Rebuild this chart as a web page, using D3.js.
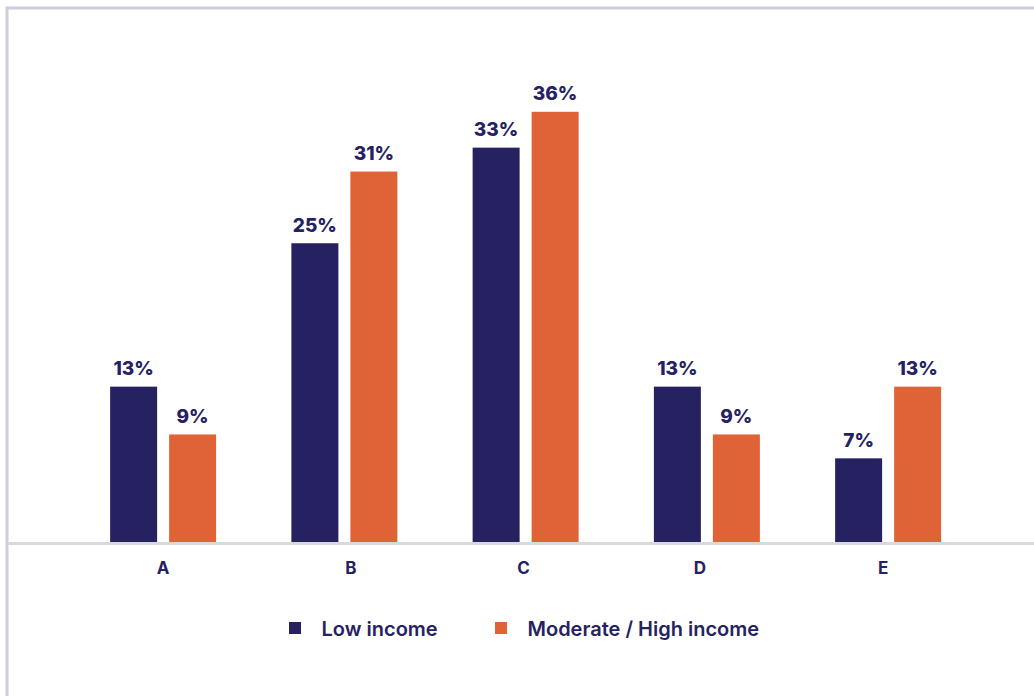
<!DOCTYPE html>
<html>
<head>
<meta charset="utf-8">
<script src="https://cdn.jsdelivr.net/npm/d3@7"></script>
<style>
  html, body { margin: 0; padding: 0; background: #ffffff; }
  svg { display: block; font-family: Inter, "Noto Sans", sans-serif; }
</style>
</head>
<body>
<svg id="chart" width="1034" height="696"></svg>
<script>
// Share of respondents by category, split by income group
const categories = ["A", "B", "C", "D", "E"];
const seriesKeys = ["low", "high"];
const seriesNames = ["Low income", "Moderate / High income"];
const lowIncome = [13, 25, 33, 13, 7];
const highIncome = [9, 31, 36, 9, 13];

const colors = { low: "#262262", high: "#e06337" };
const textColor = "#262262";
// small horizontal nudges applied to the category tick labels (layout only)
const tickNudge = { A: 0, B: 6.5, C: -2, D: -7, E: -5 };

const svg = d3.select("#chart");
const W = 1034, H = 696;

// frame: light lines along top and left edges
svg.append("line").attr("x1", 7).attr("x2", W).attr("y1", 8).attr("y2", 8)
  .attr("stroke", "#cfcde0").attr("stroke-width", 3);
svg.append("line").attr("x1", 7).attr("x2", 7).attr("y1", 6.5).attr("y2", H)
  .attr("stroke", "#cfcde0").attr("stroke-width", 3);

const baseY = 542;
const y = d3.scaleLinear().domain([0, 36]).range([baseY, baseY - 36 * 11.95]);

const x0 = d3.scaleBand().domain(categories).range([72.5, 978.75]).padding(0);
const x1 = d3.scaleBand().domain(seriesKeys).range([0, 106]).paddingInner(12 / 59).paddingOuter(0);

const rows = categories.map((c, i) => ({ cat: c, low: lowIncome[i], high: highIncome[i] }));

const groups = svg.append("g").selectAll("g").data(rows).join("g")
  .attr("transform", d => `translate(${x0(d.cat) + x0.bandwidth() / 2 - 53},0)`);

groups.selectAll("rect").data(d => seriesKeys.map(k => ({ key: k, value: d[k] }))).join("rect")
  .attr("x", d => x1(d.key))
  .attr("width", x1.bandwidth())
  .attr("y", d => y(d.value))
  .attr("height", d => baseY - y(d.value))
  .attr("fill", d => colors[d.key]);

groups.selectAll("text.val").data(d => seriesKeys.map(k => ({ key: k, value: d[k] }))).join("text")
  .attr("class", "val")
  .attr("x", d => x1(d.key) + x1.bandwidth() / 2)
  .attr("y", d => y(d.value) - 11.5)
  .attr("text-anchor", "middle")
  .attr("fill", textColor)
  .attr("font-size", 19)
  .attr("font-weight", 800)
  .text(d => d.value + "%");

// baseline
svg.append("line").attr("x1", 8).attr("x2", W).attr("y1", baseY + 1.5).attr("y2", baseY + 1.5)
  .attr("stroke", "#d9d9d9").attr("stroke-width", 3);

// category axis
const xAxis = d3.axisBottom(x0).tickSize(0).tickPadding(0);
const axisG = svg.append("g").attr("transform", `translate(0,${baseY})`).call(xAxis);
axisG.select(".domain").remove();
axisG.selectAll("text")
  .attr("dy", null)
  .attr("y", 32)
  .attr("x", d => tickNudge[d])
  .attr("fill", textColor)
  .attr("font-size", 17)
  .attr("font-weight", 700)
  .attr("font-family", "Inter, sans-serif");

// legend
const legendItems = [
  { key: "low", name: seriesNames[0], x: 289 },
  { key: "high", name: seriesNames[1], x: 495 }
];
const lg = svg.append("g").selectAll("g").data(legendItems).join("g")
  .attr("transform", d => `translate(${d.x},622)`);
lg.append("rect").attr("width", 12).attr("height", 12).attr("fill", d => colors[d.key]);
lg.append("text")
  .attr("x", 32.5).attr("y", 13.9)
  .attr("fill", textColor)
  .attr("font-size", 20)
  .attr("font-weight", 600)
  .text(d => d.name);
</script>
</body>
</html>
